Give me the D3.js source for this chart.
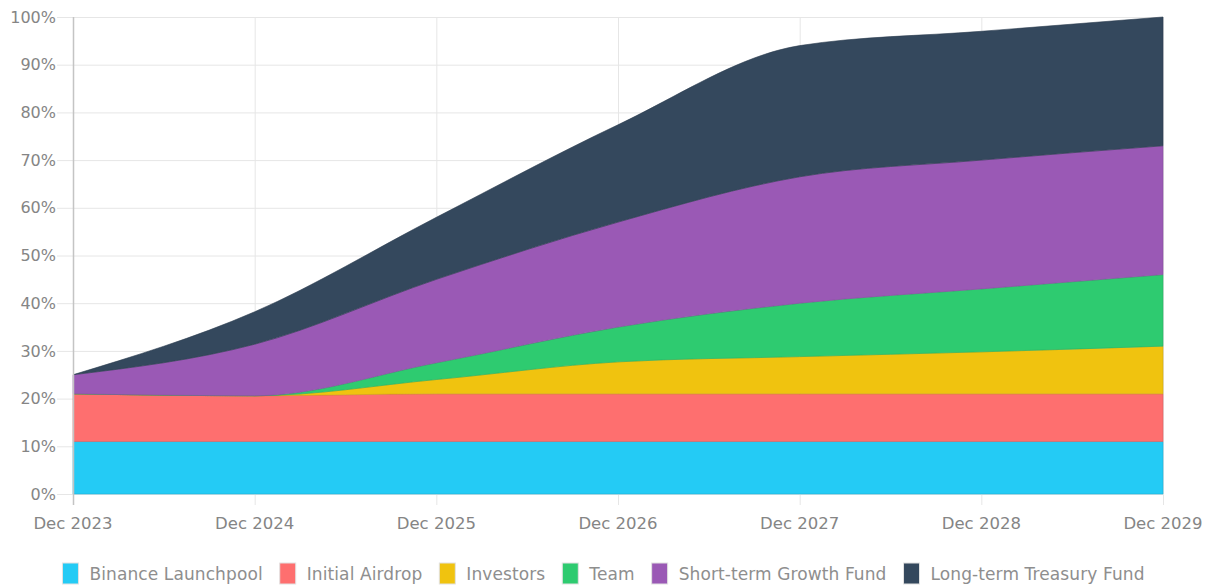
<!DOCTYPE html>
<html>
<head>
<meta charset="utf-8">
<script src="https://cdn.jsdelivr.net/npm/d3@7"></script>
<style>
  body { margin: 0; background: #fff; }
  text { font-family: "DejaVu Sans", sans-serif; }
</style>
</head>
<body>
<svg id="chart" width="1211" height="588"></svg>
<script>
const width = 1211,
  height = 588;
const margin = { top: 17, right: 48, bottom: 94, left: 73 };

// yearly unlock share, % of total supply
const years = ["Dec 2023", "Dec 2024", "Dec 2025", "Dec 2026", "Dec 2027", "Dec 2028", "Dec 2029"];
const launchpool = [11, 11, 11, 11, 11, 11, 11];
const airdrop = [10, 9.6, 10, 10, 10, 10, 10];
const investors = [0, 0, 3, 6.7, 7.8, 8.8, 10];
const team = [0, 0, 3.5, 7.3, 11.2, 13.2, 15];
const growthFund = [4, 10.8, 17.5, 22, 26.5, 27, 27];
const treasuryFund = [0, 6.8, 13, 20.4, 27.5, 27, 27];
const yTicks = [0, 10, 20, 30, 40, 50, 60, 70, 80, 90, 100];

const series = [
  { name: "Binance Launchpool", values: launchpool, color: "#24cbf5" },
  { name: "Initial Airdrop", values: airdrop, color: "#fe6f6f" },
  { name: "Investors", values: investors, color: "#f0c30f" },
  { name: "Team", values: team, color: "#2ecb70" },
  { name: "Short-term Growth Fund", values: growthFund, color: "#9a59b5" },
  { name: "Long-term Treasury Fund", values: treasuryFund, color: "#34485d" },
];

const rows = years.map((y, i) => {
  const r = { year: i };
  series.forEach((s) => (r[s.name] = s.values[i]));
  return r;
});

const svg = d3.select("#chart");
const innerW = width - margin.left - margin.right;
const innerH = height - margin.top - margin.bottom;

const x = d3.scaleLinear().domain([0, years.length - 1]).range([margin.left, margin.left + innerW]);
const y = d3.scaleLinear().domain([0, 100]).range([margin.top + innerH, margin.top]);

// grid
svg.append("g")
  .selectAll("line")
  .data(yTicks)
  .join("line")
  .attr("x1", margin.left - 16)
  .attr("x2", margin.left + innerW)
  .attr("y1", (d) => y(d) + 0.5)
  .attr("y2", (d) => y(d) + 0.5)
  .attr("stroke", "#e6e6e6");

svg.append("g")
  .selectAll("line")
  .data(years.map((d, i) => i))
  .join("line")
  .attr("x1", (d) => x(d) + 0.5)
  .attr("x2", (d) => x(d) + 0.5)
  .attr("y1", margin.top)
  .attr("y2", margin.top + innerH + 11)
  .attr("stroke", "#e6e6e6");

// stacked areas
const stack = d3.stack().keys(series.map((s) => s.name));
const stacked = stack(rows);

const area = d3
  .area()
  .x((d) => x(d.data.year))
  .y0((d) => y(d[0]))
  .y1((d) => y(d[1]))
  .curve(d3.curveMonotoneX);

svg.append("g")
  .selectAll("path")
  .data(stacked)
  .join("path")
  .attr("d", area)
  .attr("fill", (d, i) => series[i].color)
  .attr("stroke", (d, i) => d3.color(series[i].color).darker(0.4))
  .attr("stroke-width", 0.6);

// y axis line
svg.append("line")
  .attr("x1", margin.left + 0.5)
  .attr("x2", margin.left + 0.5)
  .attr("y1", margin.top)
  .attr("y2", margin.top + innerH + 11)
  .attr("stroke", "#c4c4c4")
  .attr("stroke-width", 1.5);

// y labels
svg.append("g")
  .selectAll("text")
  .data(yTicks)
  .join("text")
  .attr("x", margin.left - 17)
  .attr("y", (d) => y(d))
  .attr("dy", "0.35em")
  .attr("text-anchor", "end")
  .attr("fill", "#858585")
  .attr("font-size", 16)
  .text((d) => d + "%");

// x labels
svg.append("g")
  .selectAll("text")
  .data(years)
  .join("text")
  .attr("x", (d, i) => x(i))
  .attr("y", margin.top + innerH + 35)
  .attr("text-anchor", "middle")
  .attr("fill", "#858585")
  .attr("font-size", 16.5)
  .text((d) => d);

// legend
const legend = svg.append("g");
const items = legend
  .selectAll("g")
  .data(series)
  .join("g");

items.append("rect")
  .attr("width", 16)
  .attr("height", 21)
  .attr("y", 563)
  .attr("fill", (d) => d.color)
  .attr("stroke", "#e2e2e2")
  .attr("stroke-width", 1);

items.append("text")
  .attr("x", 27)
  .attr("y", 580)
  .attr("fill", "#8e8e8e")
  .attr("font-size", 17)
  .attr("letter-spacing", 0.1)
  .text((d) => d.name);

const gap = 17;
let offset = 0;
const positions = [];
items.each(function () {
  positions.push(offset);
  offset += 27 + this.querySelector("text").getComputedTextLength() + gap;
});
const totalW = offset - gap;
const start = width / 2 - totalW / 2 - 2;
items.attr("transform", (d, i) => `translate(${start + positions[i]},0)`);
</script>
</body>
</html>
